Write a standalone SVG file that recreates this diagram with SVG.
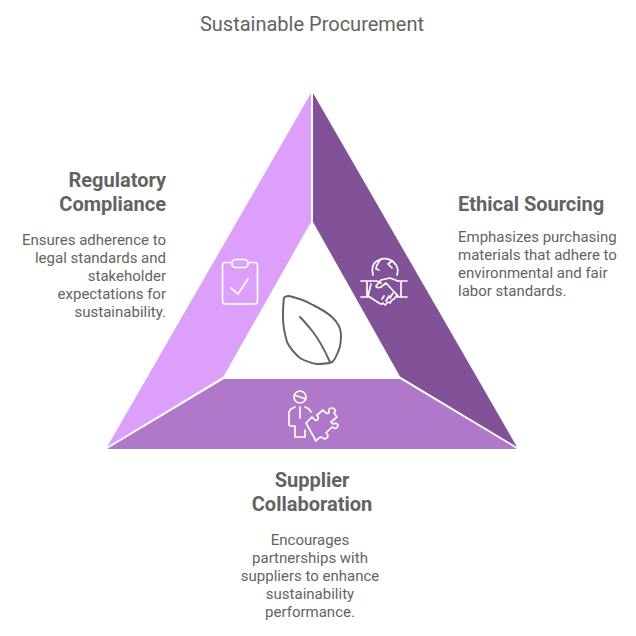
<svg xmlns="http://www.w3.org/2000/svg" width="636" height="636" viewBox="0 0 636 636">
<style>
text{font-family:"Roboto","Liberation Sans",sans-serif;fill:#636363}
.t{font-size:20px;font-weight:700}
.b{font-size:15px}
.i{fill:none;stroke:#fff;stroke-width:1.7;stroke-linecap:round;stroke-linejoin:round}
</style>
<rect width="636" height="636" fill="#fff"/>
<text x="312" y="31" text-anchor="middle" font-size="20">Sustainable Procurement</text>
<g id="regulatory-compliance">
<path d="M311 93V222L223.500 376.500 107 447Z" fill="#dca0fb"/>
<g class="i">
<rect x="222.500" y="262.500" width="35" height="41.500" rx="3"/>
<rect x="232" y="259.500" width="16" height="8" rx="3.500" fill="#dca0fb"/>
<path d="M231 288l7 6 10-15"/>
</g>
<text class="t" text-anchor="end"><tspan x="166" y="186.500">Regulatory</tspan><tspan x="166" y="210.500">Compliance</tspan></text>
<text class="b" text-anchor="end"><tspan x="166" y="245">Ensures adherence to</tspan><tspan x="166" y="263">legal standards and</tspan><tspan x="166" y="281">stakeholder</tspan><tspan x="166" y="299">expectations for</tspan><tspan x="166" y="317">sustainability.</tspan></text>
</g>
<g id="ethical-sourcing">
<path d="M313 93V222L400 376.500 517 447Z" fill="#825299"/>
<g class="i">
<path d="M373 275c-2-8 1-13 6-15 6-3 13-1 17 5 2 3 2 7 1 10"/>
<path d="M380 260c-2 4-4 5-4 9l3 1M392 268l-4-4 4-3"/>
<path d="M361 281h9M367 281v16M361 297h9M407 281h-9M401 281v16M407 297h-10"/>
<path d="M370 281h7l4 2M398 281l-8-3-9 2-5 6c0 2 3 2 5 1l5-4 12 13"/>
<path d="M371 284l-3 12 11 7c2 2 3 1 4 0l2 2 3-3 2 1 2-3 2-1 3-4M384 296l-2 3M389 296l-3 5M393 293l-3 5"/>
</g>
<text class="t" x="458" y="210.500">Ethical Sourcing</text>
<text class="b"><tspan x="458" y="242">Emphasizes purchasing</tspan><tspan x="458" y="260">materials that adhere to</tspan><tspan x="458" y="278">environmental and fair</tspan><tspan x="458" y="296">labor standards.</tspan></text>
</g>
<g id="supplier-collaboration">
<path d="M224 379H400L517 449H107Z" fill="#af78c9"/>
<g class="i">
<circle cx="300" cy="397" r="6"/>
<path d="M294.500 395l11 4M300 407v11"/>
<path d="M295 407l-4 2-2 3v13l1 1h5v11h10v-7M305 407l4 2 2 3"/>
<path d="M306 423l6-6 3 3c2 1 4-1 3-3l-1-2 6-5 3 3c2 1 3 0 3-1-1-3 1-4 3-4s4 2 3 4l-1 1 3 4-6 5 2 2c2-1 4-1 5 1 0 2-2 4-4 3l-2-1-6 6 2 2c0 2-1 3-3 4l-4-2-2 1-3 3z"/>
</g>
<text class="t" text-anchor="middle"><tspan x="312" y="486.500">Supplier</tspan><tspan x="312" y="510.500">Collaboration</tspan></text>
<text class="b" text-anchor="middle"><tspan x="310" y="545">Encourages</tspan><tspan x="310" y="563">partnerships with</tspan><tspan x="310" y="581">suppliers to enhance</tspan><tspan x="310" y="599">sustainability</tspan><tspan x="310" y="617">performance.</tspan></text>
</g>
<g id="center-leaf" fill="none" stroke="#636363" stroke-width="2" stroke-linecap="round" stroke-linejoin="round">
<path d="M284 298c1-2 3-2 5-2 9 2 17 5 24 9 8 4 15 8 20 13 5 5 8 11 8 17 0 7-1 13-3 17-2 5-4 9-6 10-5 2-10 2-15 2-6-1-12-3-17-6-6-5-10-10-13-16-2-7-4-15-4-24 0-6 0-15 1-20z"/>
<path d="M300 317c5 5 9 10 13 15 7 9 12 19 17 30"/>
</g>
</svg>
